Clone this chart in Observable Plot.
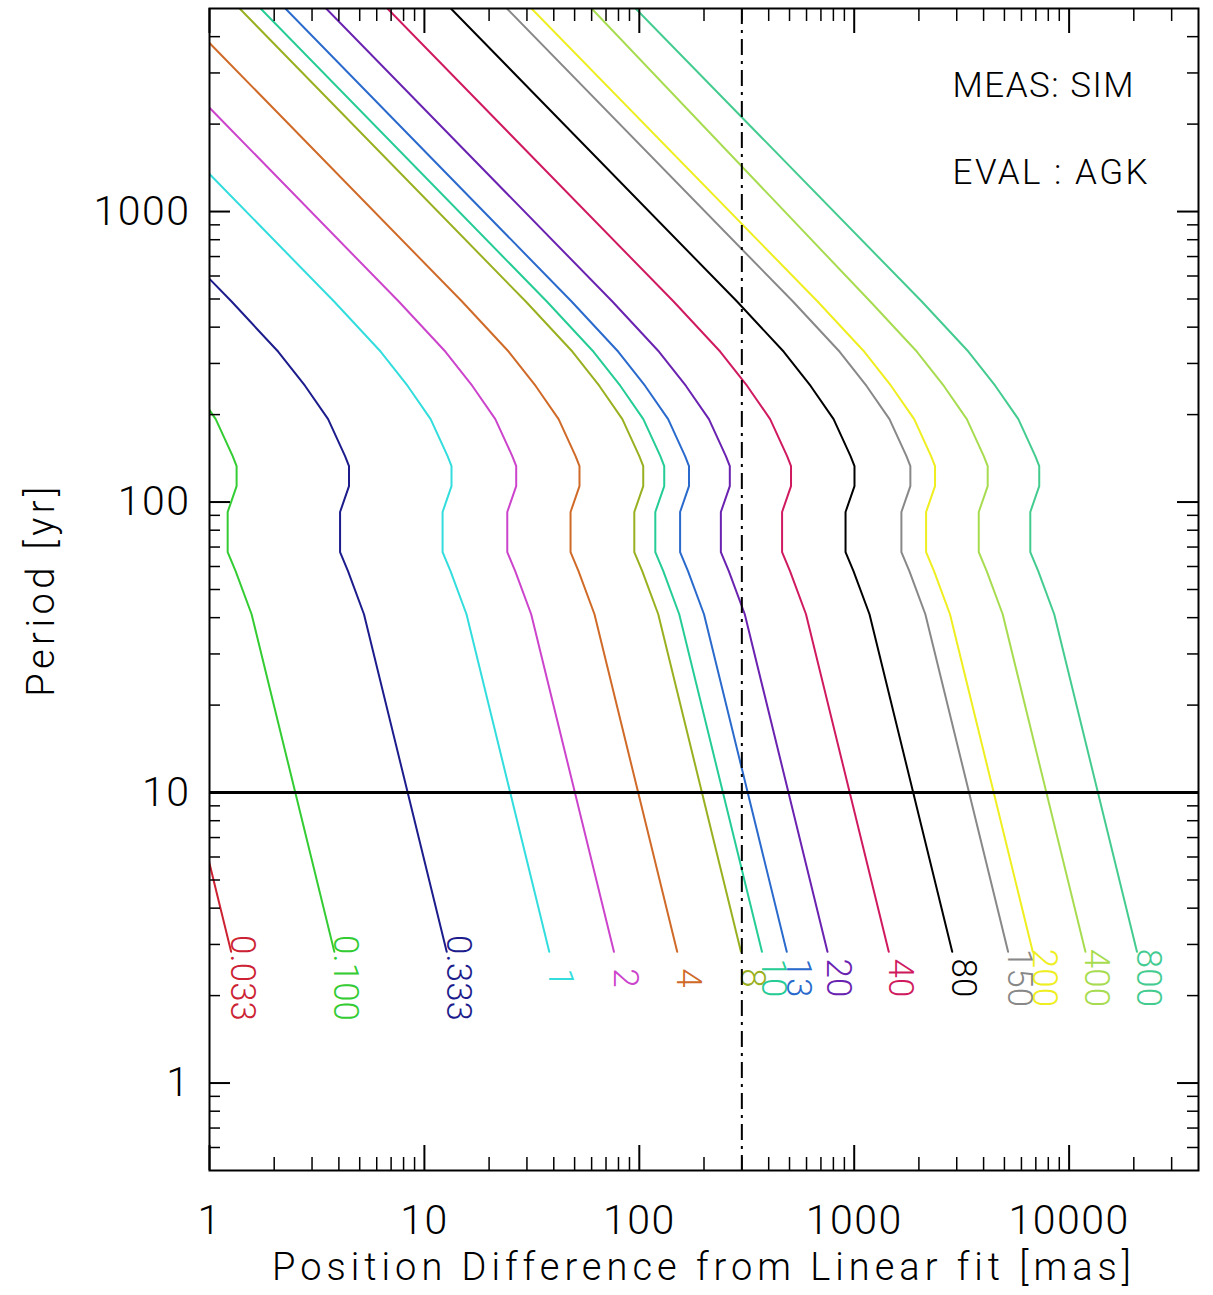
<!DOCTYPE html>
<html><head><meta charset="utf-8">
<script src="https://cdn.jsdelivr.net/npm/d3@7"></script>
<script src="https://cdn.jsdelivr.net/npm/@observablehq/plot@0.6"></script>
<style>html,body{margin:0;padding:0;background:#fff;} svg{display:block;}</style>
</head><body><div id="chart"></div>
<script>
// Period grid [yr] shared by all curves
const periods = [5000, 490, 329, 251, 193, 144, 133, 113.5, 92.4, 67.2, 57.8, 41.1, 2.83];
// Position difference [mas] for each curve at the periods above
const m0033 = [0.00586, 0.1258, 0.2075, 0.2767, 0.3538, 0.4243, 0.4425, 0.4425, 0.4022, 0.4022, 0.4379, 0.5197, 1.261];
const m0100 = [0.0177, 0.380, 0.627, 0.836, 1.069, 1.282, 1.337, 1.337, 1.215, 1.215, 1.323, 1.570, 3.81];
const m0333 = [0.059, 1.267, 2.090, 2.787, 3.564, 4.274, 4.458, 4.458, 4.051, 4.051, 4.411, 5.234, 12.70];
const m1 = [0.177, 3.80, 6.27, 8.36, 10.69, 12.82, 13.37, 13.37, 12.15, 12.15, 13.23, 15.70, 38.1];
const m2 = [0.354, 7.60, 12.54, 16.72, 21.38, 25.64, 26.74, 26.74, 24.30, 24.30, 26.46, 31.40, 76.2];
const m4 = [0.697, 14.97, 24.70, 32.94, 42.12, 50.51, 52.68, 52.68, 47.87, 47.87, 52.13, 61.86, 150.1];
const m8 = [1.381, 29.64, 48.91, 65.21, 83.38, 100.0, 104.3, 104.3, 94.77, 94.77, 103.2, 122.5, 297.2];
const m10 = [1.729, 37.13, 61.26, 81.68, 104.4, 125.3, 130.6, 130.6, 118.7, 118.7, 129.3, 153.4, 372.2];
const m13 = [2.255, 48.41, 79.88, 106.5, 136.2, 163.3, 170.3, 170.3, 154.8, 154.8, 168.5, 200.0, 485.4];
const m20 = [3.49, 74.94, 123.6, 164.9, 210.8, 252.8, 263.7, 263.7, 239.6, 239.6, 260.9, 309.6, 751];
const m40 = [6.73, 144.4, 238.3, 317.7, 406.2, 487.2, 508.1, 508.1, 461.7, 461.7, 502.7, 596.6, 1448];
const m80 = [13.28, 285, 470.3, 627, 801.8, 961.5, 1003, 1003, 911.3, 911.3, 992.3, 1178, 2858];
const m150 = [24.2, 518.7, 855.9, 1141, 1459, 1750, 1825, 1825, 1658, 1658, 1806, 2143, 5201];
const m200 = [31.5, 675.6, 1115, 1486, 1901, 2279, 2377, 2377, 2160, 2160, 2352, 2791, 6774];
const m400 = [60.0, 1188, 1960, 2613, 3342, 4008, 4180, 4180, 3798, 3798, 4136, 4908, 11910];
const m800 = [96.1, 2063, 3405, 4539, 5805, 6961, 7260, 7260, 6597, 6597, 7184, 8525, 20690];

const labels = ["0.033","0.100","0.333","1","2","4","8","10","13","20","40","80","150","200","400","800"];
const colors = ["#cc2233","#33cc33","#1c1c8c","#33dddd","#cc44cc","#d06a28","#99b020","#26cc96",
                "#2a6acc","#6a22b0","#d01a60","#000000","#888888","#eeee20","#a8dc50","#44cc90"];
const seriesX = [m0033,m0100,m0333,m1,m2,m4,m8,m10,m13,m20,m40,m80,m150,m200,m400,m800];

const labelPeriod = 2.3;
const hLine = 10;      // period [yr]
const vLine = 300;     // mas
const xMajor = [1, 10, 100, 1000, 10000];
const yMajor = [1, 10, 100, 1000];
const xDomain = [1, 40000];
const yDomain = [0.5, 5000];
const xTitle = "Position Difference from Linear fit [mas]";
const yTitle = "Period [yr]";
const notes = ["MEAS: SIM", "EVAL : AGK"];

const xMinor = [], yMinor = [];
for (const d of xMajor) for (let k = 2; k <= 9; k++) if (k*d < xDomain[1]) xMinor.push(k*d);
for (const d of [0.1, 1, 10, 100, 1000]) for (let k = 2; k <= 9; k++) { const v = k*d; if (v > yDomain[0] && v < yDomain[1]) yMinor.push(v); }

const W = 1213, H = 1295, mL = 209, mR = 15, mT = 8, mB = 125;
const fW = W - mL - mR, fH = H - mT - mB;

const marks = [];
seriesX.forEach((xs, i) => {
  const rows = periods.map((p, j) => ({x: xs[j], p}));
  marks.push(Plot.line(rows, {x: "x", y: "p", stroke: colors[i], strokeWidth: 2, clip: true}));
  const last = rows[rows.length - 1];
  marks.push(Plot.text([{x: last.x, p: labelPeriod, t: labels[i]}],
    {x: "x", y: "p", text: "t", rotate: 90, dx: 11, fill: colors[i], fontSize: 35, lineAnchor: "middle", textAnchor: "middle"}));
});
marks.push(
  Plot.ruleY([hLine], {stroke: "black", strokeWidth: 3}),
  Plot.ruleX([vLine], {stroke: "black", strokeWidth: 2, strokeDasharray: "16,6,3,6"}),
  // inward ticks on all four sides
  Plot.ruleX(xMajor, {insetTop: fH - 25, stroke: "black", strokeWidth: 2}),
  Plot.ruleX(xMajor, {insetBottom: fH - 25, stroke: "black", strokeWidth: 2}),
  Plot.ruleX(xMinor, {insetTop: fH - 13, stroke: "black", strokeWidth: 1.5}),
  Plot.ruleX(xMinor, {insetBottom: fH - 13, stroke: "black", strokeWidth: 1.5}),
  Plot.ruleY(yMajor, {insetRight: fW - 21, stroke: "black", strokeWidth: 2}),
  Plot.ruleY(yMajor, {insetLeft: fW - 21, stroke: "black", strokeWidth: 2}),
  Plot.ruleY(yMinor, {insetRight: fW - 11, stroke: "black", strokeWidth: 1.5}),
  Plot.ruleY(yMinor, {insetLeft: fW - 11, stroke: "black", strokeWidth: 1.5}),
  Plot.frame({stroke: "black", strokeWidth: 2}),
  Plot.axisX({ticks: xMajor, tickSize: 0, tickPadding: 34, tickFormat: d => String(d), fontSize: 41, label: null}),
  Plot.axisY({ticks: yMajor, tickSize: 0, tickPadding: 19, tickFormat: d => String(d), fontSize: 41, label: null}),
  Plot.text([xTitle], {frameAnchor: "bottom", dy: 97, fontSize: 38, lineAnchor: "middle", textAnchor: "middle"}),
  Plot.text([yTitle], {frameAnchor: "left", rotate: -90, dx: -168, fontSize: 38, lineAnchor: "middle", textAnchor: "middle"}),
  Plot.text([notes[0]], {frameAnchor: "top-right", textAnchor: "start", lineAnchor: "middle", dx: -246, dy: 77, fontSize: 35}),
  Plot.text([notes[1]], {frameAnchor: "top-right", textAnchor: "start", lineAnchor: "middle", dx: -246, dy: 164, fontSize: 35})
);

const chart = Plot.plot({
  width: W, height: H,
  marginLeft: mL, marginRight: mR, marginTop: mT, marginBottom: mB,
  x: {type: "log", domain: xDomain},
  y: {type: "log", domain: yDomain},
  style: {fontFamily: "Roboto, 'DejaVu Sans', sans-serif", fontWeight: 300, background: "white", color: "black"},
  marks
});
// letter spacing to mimic the wide stroke font of the original
d3.select(chart).selectAll("text").each(function() {
  const t = this.textContent;
  if (t === xTitle) this.style.letterSpacing = "5px";
  else if (t === yTitle) this.style.letterSpacing = "4.5px";
  else if (t === notes[0]) this.style.letterSpacing = "1.5px";
  else if (t === notes[1]) this.style.letterSpacing = "2.5px";
});
d3.select(chart).selectAll('g[aria-label="x-axis tick label"] text, g[aria-label="y-axis tick label"] text')
  .style("letter-spacing", "1.5px");
document.getElementById("chart").appendChild(chart);
</script>
</body></html>
